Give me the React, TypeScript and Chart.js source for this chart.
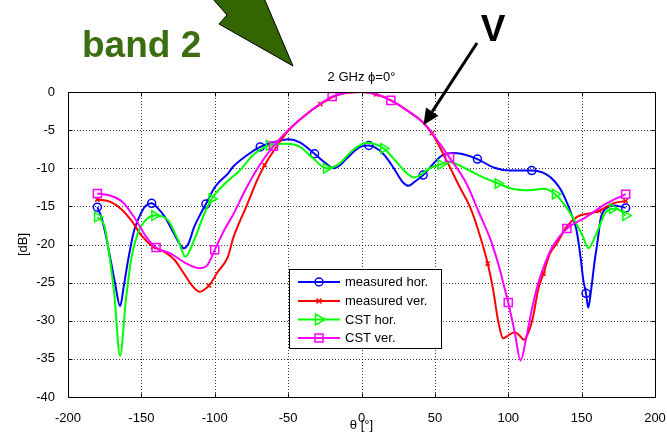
import React, { useEffect, useRef } from "react";
import { Chart, registerables } from "chart.js";

Chart.register(...registerables);

const FONT = 'Arial, "Liberation Sans", Helvetica, sans-serif';

// ---- tick labels / texts ----
const xTickValues = [-200, -150, -100, -50, 0, 50, 100, 150, 200];
const yTickValues = [0, -5, -10, -15, -20, -25, -30, -35, -40];
const chartTitle = "2 GHz \u03D5=0\u00B0";
const xAxisTitle = "\u03B8 [\u00B0]";
const yAxisTitle = "[dB]";
const legendLabels = ["measured hor.", "measured ver.", "CST hor.", "CST ver."];
const bandLabel = "band 2";
const vLabel = "V";

// ---- measured hor. ----
const mhTheta = [-180, -177, -174, -171, -168, -164.5, -162, -159, -155, -150, -147, -143, -139, -134, -128, -124, -121, -118, -114, -110, -106, -100, -96.5, -91, -87.5, -78, -69, -58, -50, -42, -32, -24, -19, -14, -10, -1, 5, 12, 17, 22, 28, 32, 36, 42, 49, 55, 62, 68, 79, 90, 101, 116, 126, 132, 136, 140, 143, 146.5, 149.5, 151, 153, 154.5, 156.5, 159, 161, 163, 167, 172, 176, 180];
const mhDb = [-15.1, -16.6, -19.0, -22.0, -25.0, -28.1, -25.5, -22.0, -18.2, -15.8, -14.9, -14.6, -15.2, -16.4, -18.5, -19.9, -20.5, -19.9, -17.7, -16.1, -14.7, -12.5, -11.7, -10.7, -9.8, -8.3, -7.2, -6.5, -6.2, -6.6, -8.1, -9.4, -10.0, -9.5, -8.7, -7.2, -7.0, -7.6, -8.6, -10.0, -11.8, -12.3, -11.8, -10.9, -9.4, -8.3, -8.0, -8.1, -8.8, -9.9, -10.3, -10.3, -10.8, -11.8, -12.9, -14.5, -16.0, -18.1, -22.0, -24.5, -26.4, -28.3, -25.9, -22.0, -19.4, -16.6, -15.2, -14.9, -15.0, -15.2];
const mhMarks = [-180, -143, -106, -69, -32, 5, 42, 79, 116, 153, 180];

// ---- measured ver. ----
const mvTheta = [-180, -171, -164, -157, -150, -142, -134, -127.5, -121, -115, -110.5, -104, -98, -91, -87.5, -78, -70.5, -66, -58, -50, -40, -28, -19, -10, 0, 10, 20, 31, 42, 48, 58, 67, 74, 79.5, 86, 89.7, 93, 96.5, 101, 104.5, 108, 110.6, 113.6, 117, 120.4, 124, 128.4, 133, 139.7, 146.6, 155.6, 162, 171.5, 180];
const mvDb = [-14.1, -14.4, -15.3, -16.8, -18.8, -20.3, -21.0, -22.0, -23.8, -25.5, -26.2, -25.4, -23.6, -21.6, -19.2, -14.8, -11.3, -9.6, -7.2, -5.1, -3.3, -1.6, -0.6, -0.1, 0, -0.3, -1.1, -2.4, -4.0, -5.4, -9.0, -12.5, -15.1, -18.1, -22.5, -25.9, -29.9, -32.3, -31.8, -31.5, -32.0, -32.5, -31.6, -29.4, -25.9, -23.8, -21.2, -19.9, -17.7, -16.4, -15.9, -15.6, -14.6, -14.3];
const mvMarks = [-180, -142, -104, -66, -28, 10, 48, 86, 124, 162, 180];

// ---- CST hor. ----
const chTheta = [-180, -175, -172, -168.5, -164.5, -160.5, -157, -152.5, -146, -141, -132, -125, -120, -114, -107, -102, -93, -83, -74, -63, -51, -42, -33, -24, -15, -6, 3.5, 15, 24, 30, 36, 40, 46.5, 54, 60, 71.5, 83, 93, 103, 114.5, 124, 132, 139.5, 146.5, 151, 154.5, 160, 166, 171, 176, 180];
const chDb = [-16.4, -17.7, -21.2, -26.4, -34.6, -27.2, -22.0, -18.6, -16.6, -16.2, -16.8, -19.4, -21.6, -19.4, -15.9, -14.0, -12.0, -10.3, -8.3, -7.0, -6.8, -7.2, -8.7, -10.0, -9.4, -7.65, -6.65, -7.4, -9.2, -10.5, -11.2, -10.9, -10.0, -9.5, -9.2, -10.1, -11.2, -12.0, -12.7, -12.9, -12.7, -13.4, -15.1, -17.3, -19.0, -20.5, -18.6, -15.9, -15.3, -15.5, -16.2];
const chMarks = [-180, -141, -102, -63, -24, 15, 54, 93, 132, 171, 180];

// ---- CST ver. ----
const cvTheta = [-180, -171, -163, -155, -146, -140, -130, -121, -110.5, -105, -100, -93.5, -87.5, -78.5, -69.5, -60, -50, -40, -28.5, -20, -10, 0, 10, 20, 31, 42, 48, 60, 71.5, 80.5, 88, 94.3, 97.7, 100, 104.5, 108.4, 112.5, 116, 120.4, 126, 131, 140, 153, 167, 180];
const cvDb = [-13.3, -13.6, -14.4, -16.4, -19.2, -20.4, -21.2, -22.3, -23.1, -22.7, -20.7, -18.1, -16.1, -12.6, -9.6, -7.1, -5.0, -3.3, -1.6, -0.6, -0.1, 0, -0.3, -1.1, -2.4, -4.0, -5.4, -8.6, -12.0, -16.0, -19.4, -23.3, -25.9, -27.6, -31.6, -35.2, -32.0, -28.6, -25.1, -22.0, -20.0, -17.9, -16.4, -14.6, -13.4];
const cvMarks = [-180, -140, -100, -60, -20, 20, 60, 100, 140, 180];

const toPoints = (t: number[], d: number[]) => t.map((x, i) => ({ x, y: d[i] }));

const BLUE = "#0000ff";
const RED = "#ff0000";
const GREEN = "#00ff00";
const MAGENTA = "#ff00ff";

function makeDataset(label: string, t: number[], d: number[], marks: number[], color: string, style: string, r: number, rotation: number, order: number) {
  return {
    label,
    data: toPoints(t, d),
    borderColor: color,
    backgroundColor: "rgba(0,0,0,0)",
    borderWidth: 2,
    pointStyle: style,
    rotation,
    pointBorderColor: color,
    pointBackgroundColor: "rgba(0,0,0,0)",
    pointBorderWidth: 1.5,
    pointRadius: (c: any) => (c.raw && marks.includes(c.raw.x) ? r : 0),
    pointHoverRadius: 0,
    cubicInterpolationMode: "monotone",
    fill: false,
    order,
  };
}

function drawMarker(ctx: CanvasRenderingContext2D, kind: string, x: number, y: number, color: string) {
  ctx.save();
  ctx.strokeStyle = color;
  ctx.lineWidth = 1.5;
  ctx.beginPath();
  if (kind === "circle") {
    ctx.arc(x, y, 4, 0, Math.PI * 2);
  } else if (kind === "x") {
    ctx.moveTo(x - 2.5, y - 2.5); ctx.lineTo(x + 2.5, y + 2.5);
    ctx.moveTo(x + 2.5, y - 2.5); ctx.lineTo(x - 2.5, y + 2.5);
  } else if (kind === "tri") {
    ctx.moveTo(x + 6, y); ctx.lineTo(x - 3.5, y - 5.5); ctx.lineTo(x - 3.5, y + 5.5); ctx.closePath();
  } else {
    ctx.rect(x - 4, y - 4, 8, 8);
  }
  ctx.stroke();
  ctx.restore();
}

const overlayPlugin = {
  id: "overlay",
  beforeDatasetsDraw(chart: any) {
    const { ctx, chartArea: a, scales } = chart;
    ctx.save();
    ctx.strokeStyle = "rgba(0,0,0,0.75)";
    ctx.lineWidth = 1;
    ctx.setLineDash([1, 2]);
    xTickValues.forEach((v) => {
      const px = Math.round(scales.x.getPixelForValue(v)) + 0.5;
      ctx.beginPath(); ctx.moveTo(px, a.top); ctx.lineTo(px, a.bottom); ctx.stroke();
    });
    yTickValues.forEach((v) => {
      const py = Math.round(scales.y.getPixelForValue(v)) + 0.5;
      ctx.beginPath(); ctx.moveTo(a.left, py); ctx.lineTo(a.right, py); ctx.stroke();
    });
    ctx.restore();
  },
  afterDraw(chart: any) {
    const { ctx, chartArea: a, scales } = chart;
    ctx.save();
    // axes box
    ctx.strokeStyle = "#000";
    ctx.lineWidth = 1;
    ctx.setLineDash([]);
    const L = Math.round(a.left) + 0.5, R = Math.round(a.right) + 0.5, T = Math.round(a.top) + 0.5, B = Math.round(a.bottom) + 0.5;
    ctx.strokeRect(L, T, R - L, B - T);
    // inner tick marks
    ctx.beginPath();
    xTickValues.forEach((v) => {
      const px = Math.round(scales.x.getPixelForValue(v)) + 0.5;
      ctx.moveTo(px, B); ctx.lineTo(px, B - 4);
      ctx.moveTo(px, T); ctx.lineTo(px, T + 4);
    });
    yTickValues.forEach((v) => {
      const py = Math.round(scales.y.getPixelForValue(v)) + 0.5;
      ctx.moveTo(L, py); ctx.lineTo(L + 4, py);
      ctx.moveTo(R, py); ctx.lineTo(R - 4, py);
    });
    ctx.stroke();

    // title and axis titles
    ctx.fillStyle = "#000";
    ctx.font = `13px ${FONT}`;
    ctx.textAlign = "center";
    ctx.textBaseline = "middle";
    ctx.fillText(chartTitle, (a.left + a.right) / 2, 77);
    ctx.fillText(xAxisTitle, (a.left + a.right) / 2, 425);
    ctx.save();
    ctx.translate(23, (a.top + a.bottom) / 2);
    ctx.rotate(-Math.PI / 2);
    ctx.fillText(yAxisTitle, 0, 0);
    ctx.restore();

    // legend
    const lx = 289, ly = 269, lw = 152, lh = 79;
    ctx.fillStyle = "#fff";
    ctx.fillRect(lx, ly, lw, lh);
    ctx.strokeStyle = "#000";
    ctx.lineWidth = 1;
    ctx.strokeRect(lx + 0.5, ly + 0.5, lw, lh);
    const colors = [BLUE, RED, GREEN, MAGENTA];
    const kinds = ["circle", "x", "tri", "rect"];
    const rowsY = [282, 301, 319.5, 338];
    legendLabels.forEach((lab, i) => {
      const y = rowsY[i];
      ctx.strokeStyle = colors[i];
      ctx.lineWidth = 2;
      ctx.beginPath(); ctx.moveTo(298, y); ctx.lineTo(340, y); ctx.stroke();
      drawMarker(ctx, kinds[i], 319, y, colors[i]);
      ctx.fillStyle = "#000";
      ctx.font = `13px ${FONT}`;
      ctx.textAlign = "left";
      ctx.textBaseline = "middle";
      ctx.fillText(lab, 345, y + 0.5);
    });

    // green arrow annotation
    ctx.beginPath();
    ctx.moveTo(212, -2);
    ctx.lineTo(227, 15);
    ctx.lineTo(219, 24);
    ctx.lineTo(293, 66);
    ctx.lineTo(264, -2);
    ctx.closePath();
    ctx.fillStyle = "#336600";
    ctx.fill();
    ctx.strokeStyle = "#000";
    ctx.lineWidth = 1;
    ctx.stroke();

    // band 2 label
    ctx.fillStyle = "#3a6e0e";
    ctx.font = `bold 37px ${FONT}`;
    ctx.textAlign = "left";
    ctx.textBaseline = "alphabetic";
    ctx.fillText(bandLabel, 82, 57);

    // V label
    ctx.fillStyle = "#000";
    ctx.font = `bold 37px ${FONT}`;
    ctx.textAlign = "center";
    ctx.fillText(vLabel, 493, 41);

    // black arrow
    const sx = 477, sy = 43, tx = 423.5, ty = 125;
    const dx = tx - sx, dy = ty - sy;
    const len = Math.hypot(dx, dy);
    const ux = dx / len, uy = dy / len;
    const hl = 16, hw = 7.5;
    const bx = tx - ux * hl, by = ty - uy * hl;
    ctx.strokeStyle = "#000";
    ctx.lineWidth = 3;
    ctx.beginPath(); ctx.moveTo(sx, sy); ctx.lineTo(bx, by); ctx.stroke();
    ctx.beginPath();
    ctx.moveTo(tx, ty);
    ctx.lineTo(bx - uy * hw, by + ux * hw);
    ctx.lineTo(bx + uy * hw, by - ux * hw);
    ctx.closePath();
    ctx.fillStyle = "#000";
    ctx.fill();

    ctx.restore();
  },
};

export default function App() {
  const ref = useRef<HTMLCanvasElement | null>(null);
  useEffect(() => {
    if (!ref.current) return;
    const tickFont = { family: FONT, size: 13 };
    const chart = new Chart(ref.current, {
      type: "line",
      data: {
        datasets: [
          makeDataset(legendLabels[0], mhTheta, mhDb, mhMarks, BLUE, "circle", 4, 0, 4),
          makeDataset(legendLabels[1], mvTheta, mvDb, mvMarks, RED, "crossRot", 3, 0, 3),
          makeDataset(legendLabels[2], chTheta, chDb, chMarks, GREEN, "triangle", 5.5, 90, 2),
          makeDataset(legendLabels[3], cvTheta, cvDb, cvMarks, MAGENTA, "rect", 5.7, 0, 1),
        ] as any,
      },
      options: {
        animation: false,
        responsive: false,
        devicePixelRatio: 1,
        events: [],
        layout: { padding: { top: 92, right: 12, left: 0, bottom: 0 } },
        plugins: {
          legend: { display: false },
          title: { display: false },
          tooltip: { enabled: false },
        },
        scales: {
          x: {
            type: "linear",
            min: -200,
            max: 200,
            afterBuildTicks: (s: any) => { s.ticks = xTickValues.map((v) => ({ value: v })); },
            afterFit: (s: any) => { s.height = 38; s.paddingLeft = 0; s.paddingRight = 0; },
            ticks: { font: tickFont, color: "#000", padding: 6, maxRotation: 0, autoSkip: false, callback: (v: any) => String(v) },
            grid: { display: false },
            border: { display: false },
          },
          y: {
            type: "linear",
            min: -40,
            max: 0,
            afterBuildTicks: (s: any) => { s.ticks = yTickValues.map((v) => ({ value: v })); },
            afterFit: (s: any) => { s.width = 68; s.paddingTop = 0; s.paddingBottom = 0; },
            ticks: { font: tickFont, color: "#000", padding: 5, autoSkip: false, callback: (v: any) => String(v) },
            grid: { display: false },
            border: { display: false },
          },
        },
      } as any,
      plugins: [overlayPlugin],
    });
    return () => chart.destroy();
  }, []);
  return (
    <div style={{ position: "fixed", left: 0, top: 0, width: 667, height: 435, background: "#fff" }}>
      <canvas ref={ref} width={667} height={435} style={{ display: "block", width: 667, height: 435 }} />
    </div>
  );
}
